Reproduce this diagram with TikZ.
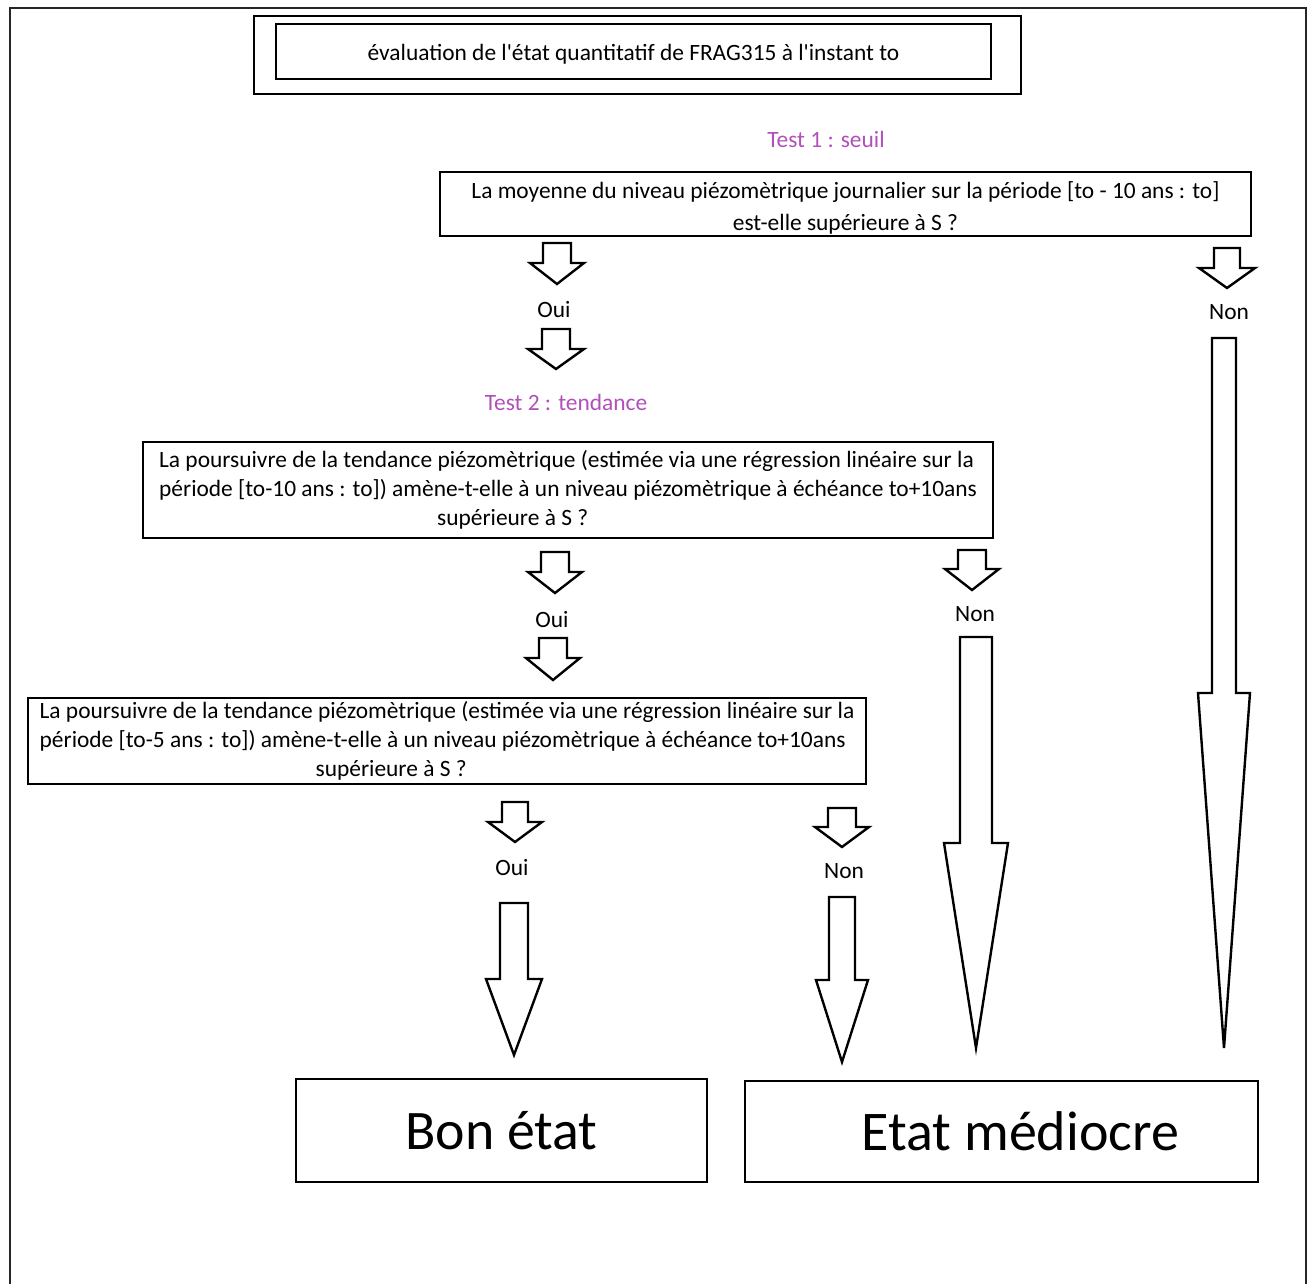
\documentclass[tikz,border=0pt]{standalone}
\usepackage{fontspec}
\setmainfont{Carlito}
\definecolor{testviolet}{RGB}{177,80,186}

\begin{document}
\begin{tikzpicture}[x=0.5pt,y=-0.5pt,
  boite/.style={draw,line width=1.4pt,inner sep=0pt,font=\fontsize{11.7}{14.5}\selectfont},
  reponse/.style={font=\fontsize{11.7}{13}\selectfont},
  titretest/.style={font=\fontsize{11.7}{13}\selectfont,text=testviolet},
  fleche/.style={draw,line width=1.2pt,line join=miter,fill=white},
  etat/.style={draw,line width=1.4pt,inner sep=0pt}]
  \useasboundingbox (0,0) rectangle (1314,1284);
  % Cadre
  \draw[line width=1pt,black!85] (10,1284) -- (10,8) -- (1306,8) -- (1306,1284);
  % Titre
  \node[draw,line width=1.4pt,minimum width=383.5pt,minimum height=39pt] (cadretitre) at (637.5,55) {};
  \node[boite,minimum width=357.5pt,minimum height=27.5pt] (titre) at (633.5,51.5)
    {\raisebox{-1.5pt}[\height][\depth]{évaluation de l\textquotesingle état quantitatif de FRAG315 à l\textquotesingle instant to}};
  % Test 1
  \node[titretest] (test1) at (826,139) {Test 1 : seuil};
  \node[boite,font=\fontsize{11.7}{16}\selectfont,align=center,minimum width=405.5pt,minimum height=32pt] (q1) at (845.5,204)
    {\raisebox{-2pt}[\height][\depth]{La moyenne du niveau piézomètrique journalier sur la période [to - 10 ans : to]}\\
     \raisebox{-2pt}[\height][\depth]{est-elle supérieure à S ?}};
  \node[reponse] (oui1) at (554,310) {Oui};
  \node[reponse] (non1) at (1229,312) {Non};
  % Test 2
  \node[titretest] (test2) at (566,402) {Test 2 : tendance};
  \node[boite,align=left,minimum width=425pt,minimum height=48pt] (q2) at (568,490)
    {La poursuivre de la tendance piézomètrique (estimée via une régression linéaire sur la\\
     période [to-10 ans : to]) amène-t-elle à un niveau piézomètrique à échéance to+10ans\\
     \hspace*{139pt}supérieure à S ?};
  \node[reponse] (oui2) at (552,620) {Oui};
  \node[reponse] (non2) at (975,614) {Non};
  \node[boite,align=left,minimum width=419pt,minimum height=43pt] (q3) at (447,741)
    {La poursuivre de la tendance piézomètrique (estimée via une régression linéaire sur la\\
     période [to-5 ans : to]) amène-t-elle à un niveau piézomètrique à échéance to+10ans\\
     \hspace*{138pt}supérieure à S ?};
  \node[reponse] (oui3) at (512,868) {Oui};
  \node[reponse] (non3) at (844,871) {Non};
  % Conclusions
  \node[etat,font=\fontsize{27.9}{30}\selectfont,minimum width=205.5pt,minimum height=51.5pt] (bon) at (501.5,1130.5) {Bon état};
  \node[etat,font=\fontsize{28}{31}\selectfont,minimum width=256.5pt,minimum height=50.5pt] (mediocre) at (1001.5,1131.5)
    {\hspace*{19pt}Etat médiocre};
  % Fleches
  \foreach \x/\ya/\yb/\yc/\s/\h in {557/243/263/284/14/27, 556/329/349/369/14/28,
      1227/248/268/288/13/28, 555/552/572/593/14/27, 553/638/658/680/14/27,
      972/550/569/590/14/27, 515/802/822/842/13/27, 842/808/827/847/14/27,
      1224/338/693/1048/12/26, 976/637/843/1048/16/32, 514/903/979/1055/14/28,
      842/897/980/1062/13/26}
    \draw[fleche] (\x-\s,\ya) -- (\x+\s,\ya) -- (\x+\s,\yb) -- (\x+\h,\yb) -- (\x,\yc)
      -- (\x-\h,\yb) -- (\x-\s,\yb) -- cycle;
\end{tikzpicture}
\end{document}
